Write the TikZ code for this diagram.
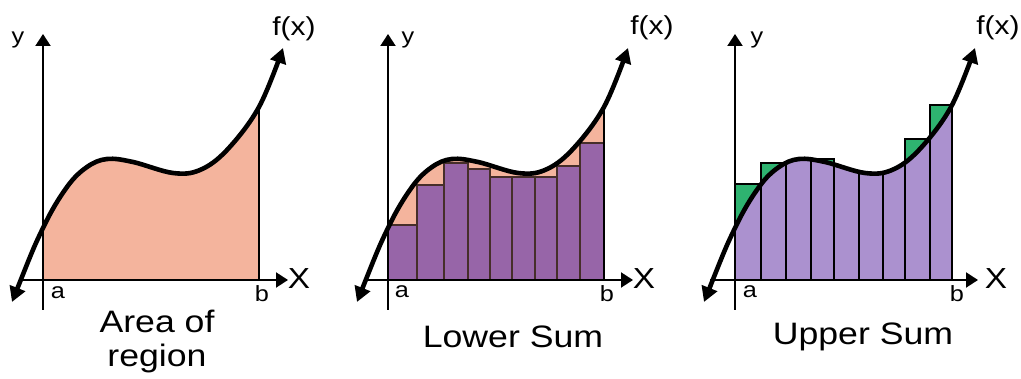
\documentclass[tikz,border=0pt]{standalone}
\usepackage{fontspec}
\setmainfont{Liberation Sans}
\usetikzlibrary{arrows.meta,positioning}
\definecolor{areafill}{RGB}{244,180,157}
\definecolor{lowfill}{RGB}{151,101,168}
\definecolor{lowedge}{RGB}{70,46,42}
\definecolor{upfill}{RGB}{171,145,207}
\definecolor{upgreen}{RGB}{46,179,112}

% the function, in panel units (a at 0, b at 216)
\newcommand{\fcurve}{plot[smooth, tension=0.6] coordinates {(-31,-22) (0,52) (24,93) (44,113) (64,121) (90,118) (130,107) (157,110) (184,130) (216,173) (240,232)}}

\begin{document}
\begin{tikzpicture}[
    x=1pt, y=1pt,
    axis/.style={line width=2.1pt, -{Triangle[length=12pt,width=15pt]}},
    fline/.style={line width=4.6pt, {Triangle[length=15pt,width=16pt]}-{Triangle[length=15pt,width=16pt]}},
    bline/.style={line width=2pt},
    lowbar/.style={draw=lowedge, fill=lowfill, line width=2.6pt},
    upbar/.style={draw=black, fill=upgreen, line width=2pt},
    lbl/.style={font=\fontsize{22}{26}\selectfont, inner sep=0pt, xscale=1.15},
    xlbl/.style={font=\fontsize{29}{32}\selectfont, inner sep=0pt, xscale=1.15},
    flbl/.style={font=\fontsize{26}{30}\selectfont, inner sep=0pt, xscale=1.15},
    title/.style={font=\fontsize{31}{34}\selectfont, inner sep=0pt, xscale=1.15, align=center},
]
\useasboundingbox (0,0) rectangle (1021,379);

% === Area of region ===
\begin{scope}[shift={(43,99)}]
  \begin{scope}
    \clip (0,0) rectangle (216,260);
    \fill[areafill] \fcurve -- (240,0) -- (-31,0) -- cycle;
  \end{scope}
  \draw[bline] (216,0) -- (216,173);
  \draw[axis] (-21,0) -- (245,0);
  \draw[axis] (0,-30) -- (0,246);
  \draw[fline] \fcurve;
  \node[lbl] (y1) at (-25,240) {y};
  \node[flbl] (f1) at (251,251) {f(x)};
  \node[xlbl] (x1) at (256,1) {X};
  \node[lbl] (a1) at (15,-13) {a};
  \node[lbl] (b1) at (219,-14) {b};
  \node[title] (t1) at (114,-62) {Area of\\region};
\end{scope}

% === Lower Sum ===
\begin{scope}[shift={(388,99)}]
  \begin{scope}
    \clip (0,0) rectangle (216,260);
    \fill[areafill] \fcurve -- (240,0) -- (-31,0) -- cycle;
  \end{scope}
  \foreach \xa/\xb/\h in {0/29/55, 29/56/95, 56/80/117, 80/102/111, 102/124/103,
                          124/147/103, 147/169/103, 169/192/114, 192/216/137}
    \draw[lowbar] (\xa,0) rectangle (\xb,\h);
  \draw[bline] (216,0) -- (216,173);
  \draw[axis] (-21,0) -- (245,0);
  \draw[axis] (0,-30) -- (0,246);
  \draw[fline] \fcurve;
  \node[lbl] (y2) at (20,240) {y};
  \node[flbl] (f2) at (264,252) {f(x)};
  \node[xlbl] (x2) at (256,1) {X};
  \node[lbl] (a2) at (14,-12) {a};
  \node[lbl] (b2) at (219,-14) {b};
  \node[title] (t2) at (125,-57) {Lower Sum};
\end{scope}

% === Upper Sum ===
\begin{scope}[shift={(735,99)}]
  \foreach \xa/\xb/\h in {0/26/96, 26/51/117, 76/99/121, 170/195/141, 195/217/175}
    \draw[upbar] (\xa,0) rectangle (\xb,\h);
  \begin{scope}
    \clip (0,0) rectangle (217,260);
    \clip \fcurve -- (240,0) -- (-31,0) -- cycle;
    \fill[upfill] (0,0) rectangle (217,260);
    \foreach \xe in {0,26,51,76,99,124,148,170,195,217}
      \draw[bline] (\xe,0) -- (\xe,260);
  \end{scope}
  \draw[axis] (-25,0) -- (243,0);
  \draw[axis] (0,-30) -- (0,246);
  \draw[fline] \fcurve;
  \node[lbl] (y3) at (22,240) {y};
  \node[flbl] (f3) at (263,252) {f(x)};
  \node[xlbl] (x3) at (261,1) {X};
  \node[lbl] (a3) at (15,-12) {a};
  \node[lbl] (b3) at (222,-14) {b};
  \node[title] (t3) at (128,-57) {Upper Sum};
\end{scope}
\end{tikzpicture}
\end{document}
